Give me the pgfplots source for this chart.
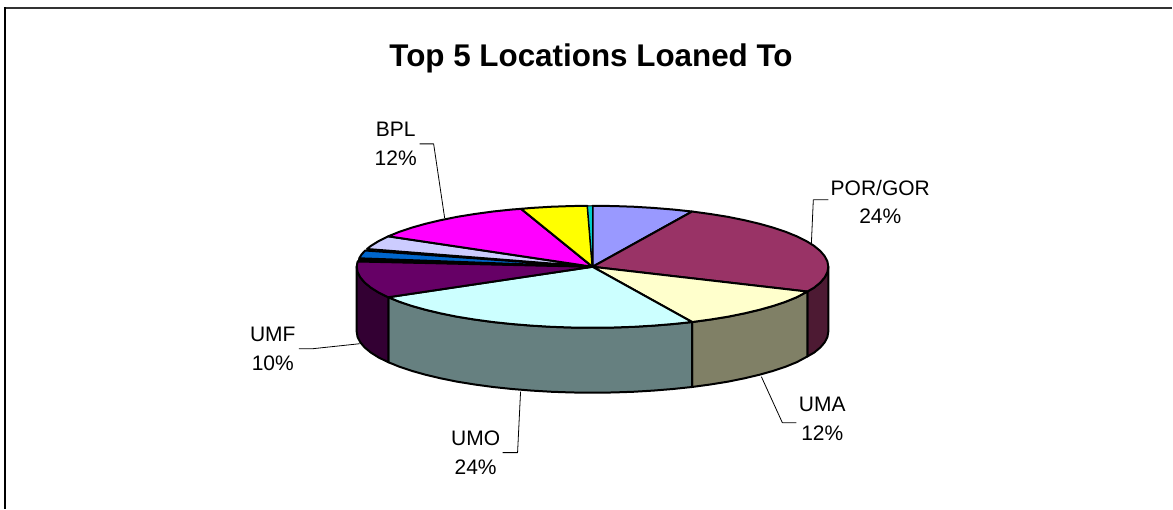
\documentclass[border=0pt]{standalone}
\usepackage{pgfplots}
\pgfplotsset{compat=1.18}
\usepackage{fontspec}
\setmainfont{Liberation Sans}
\definecolor{cLilac}{HTML}{9999FF}
\definecolor{cMaroon}{HTML}{993366}
\definecolor{cCream}{HTML}{FFFFCC}
\definecolor{cCyan}{HTML}{CCFFFF}
\definecolor{cPurple}{HTML}{660066}
\definecolor{cBlue}{HTML}{0066CC}
\definecolor{cLav}{HTML}{CCCCFF}
\definecolor{cMag}{HTML}{FF00FF}
\definecolor{cYel}{HTML}{FFFF00}
\definecolor{cTeal}{HTML}{00CCCC}
\definecolor{sMaroon}{HTML}{4D1A33}
\definecolor{sCream}{HTML}{808066}
\definecolor{sCyan}{HTML}{668080}
\definecolor{sPurple}{HTML}{330033}
\begin{document}
\begin{tikzpicture}
\begin{axis}[
  width=1173pt,height=509pt,scale only axis,hide axis,
  xmin=0,xmax=1173,ymin=0,ymax=509,y dir=reverse,clip=false,
  every axis plot/.append style={no markers,line join=round},
]
\fill[white] (axis cs:0,0) rectangle (axis cs:1173,509);
% frame
\addplot[black!80,line width=2pt] coordinates {(4,8)(1173,8)};
\addplot[black,line width=1.8pt] coordinates {(5.2,509)(5.2,7)};
% side walls
\addplot[fill=sMaroon,draw=black,line width=2pt] coordinates {(829,267)(828.1,272.3)(825.4,277.6)(821,282.8)(814.8,287.9)(808,291.8)(808,356.8)(814.8,352.9)(821,347.8)(825.4,342.6)(828.1,337.3)(829,332)} --cycle;
\addplot[fill=sCream,draw=black,line width=2pt] coordinates {(808,291.8)(797.4,297.5)(786.3,302)(773.8,306.2)(759.9,310.1)(744.7,313.7)(728.4,317)(711,319.8)(692.7,322.3)(692.7,387.3)(711,384.8)(728.4,382)(744.7,378.7)(759.9,375.1)(773.8,371.2)(786.3,367)(797.4,362.5)(808,356.8)} --cycle;
\addplot[fill=sCyan,draw=black,line width=2pt] coordinates {(692.7,322.3)(673.7,324.3)(654.1,325.9)(634,327.1)(613.6,327.8)(593,328)(572.4,327.8)(552,327.1)(531.9,325.9)(512.3,324.3)(493.3,322.3)(475,319.8)(457.6,317)(441.3,313.7)(426.1,310.1)(412.2,306.2)(399.7,302)(388.6,297.5)(388.6,362.5)(399.7,367)(412.2,371.2)(426.1,375.1)(441.3,378.7)(457.6,382)(475,384.8)(493.3,387.3)(512.3,389.3)(531.9,390.9)(552,392.1)(572.4,392.8)(593,393)(613.6,392.8)(634,392.1)(654.1,390.9)(673.7,389.3)(692.7,387.3)} --cycle;
\addplot[fill=sPurple,draw=black,line width=2pt] coordinates {(388.6,297.5)(379,292.8)(371.2,287.9)(365,282.8)(360.6,277.6)(357.9,272.3)(357,267)(357,332)(357.9,337.3)(360.6,342.6)(365,347.8)(371.2,352.9)(379,357.8)(388.6,362.5)} --cycle;
% top surface
\addplot[fill=cLilac,draw=black,line width=2pt] coordinates {(593,267)(593,206)(613.6,206.2)(634,206.9)(654.1,208.1)(673.7,209.7)(692.7,211.7)} --cycle;
\addplot[fill=cMaroon,draw=black,line width=2pt] coordinates {(593,267)(692.7,211.7)(711,214.2)(728.4,217)(744.7,220.3)(759.9,223.9)(773.8,227.8)(786.3,232)(797.4,236.5)(806.9,241.2)(814.8,246.1)(821,251.2)(825.4,256.4)(828.1,261.7)(829,267)(828.1,272.3)(825.4,277.6)(821,282.8)(814.8,287.9)(808,291.8)} --cycle;
\addplot[fill=cCream,draw=black,line width=2pt] coordinates {(593,267)(808,291.8)(797.4,297.5)(786.3,302)(773.8,306.2)(759.9,310.1)(744.7,313.7)(728.4,317)(711,319.8)(692.7,322.3)} --cycle;
\addplot[fill=cCyan,draw=black,line width=2pt] coordinates {(593,267)(692.7,322.3)(673.7,324.3)(654.1,325.9)(634,327.1)(613.6,327.8)(593,328)(572.4,327.8)(552,327.1)(531.9,325.9)(512.3,324.3)(493.3,322.3)(475,319.8)(457.6,317)(441.3,313.7)(426.1,310.1)(412.2,306.2)(399.7,302)(388.6,297.5)} --cycle;
\addplot[fill=cPurple,draw=black,line width=2pt] coordinates {(593,267)(388.6,297.5)(379,292.8)(371.2,287.9)(365,282.8)(360.6,277.6)(357.9,272.3)(357,267)(357.9,261.7)} --cycle;
\addplot[fill=black,draw=black,line width=1pt] coordinates {(593,267)(357.9,261.7)(359.5,258.5)} --cycle;
\addplot[fill=cBlue,draw=black,line width=2pt] coordinates {(593,267)(359.5,258.5)(362,254.5)(365.5,250.7)} --cycle;
\addplot[fill=cLav,draw=black,line width=2pt] coordinates {(593,267)(367.3,249.2)(371.2,246.1)(379.1,241.2)(388.6,236.5)} --cycle;
\addplot[fill=cMag,draw=black,line width=2pt] coordinates {(593,267)(388.6,236.5)(399.7,232)(412.2,227.8)(426.1,223.9)(441.3,220.3)(457.6,217)(475,214.2)(493.3,211.7)(512.3,209.7)(521.5,209)} --cycle;
\addplot[fill=cYel,draw=black,line width=2pt] coordinates {(593,267)(521.5,209)(531.9,208.1)(552,206.9)(572.4,206.2)(588,206)} --cycle;
\addplot[fill=cTeal,draw=black,line width=1pt] coordinates {(593,267)(588,206)(593,206)} --cycle;
% leader lines
\addplot[black,line width=0.8pt] coordinates {(812,245)(814,200)(829,200)};
\addplot[black,line width=0.8pt] coordinates {(762,377)(783,423)(797,423)};
\addplot[black,line width=0.8pt] coordinates {(521,392)(518,453)(503,453)};
\addplot[black,line width=0.8pt] coordinates {(360,344)(313,349)(299,349)};
\addplot[black,line width=0.8pt] coordinates {(420,144)(434,144)(445,218)};
% labels
\node[font=\fontsize{31.4}{36}\selectfont\bfseries,anchor=center] at (axis cs:591.5,58) {Top 5 Locations Loaned To};
\tikzset{lab/.style={font=\fontsize{21}{28.5}\selectfont,align=center,anchor=center,inner sep=0pt}}
\node[lab] at (axis cs:881,202) {POR/GOR\\24\%};
\node[lab] at (axis cs:823,419) {UMA\\12\%};
\node[lab] at (axis cs:476,453) {UMO\\24\%};
\node[lab] at (axis cs:273,349) {UMF\\10\%};
\node[lab] at (axis cs:396,144) {BPL\\12\%};
\end{axis}
\end{tikzpicture}
\end{document}
